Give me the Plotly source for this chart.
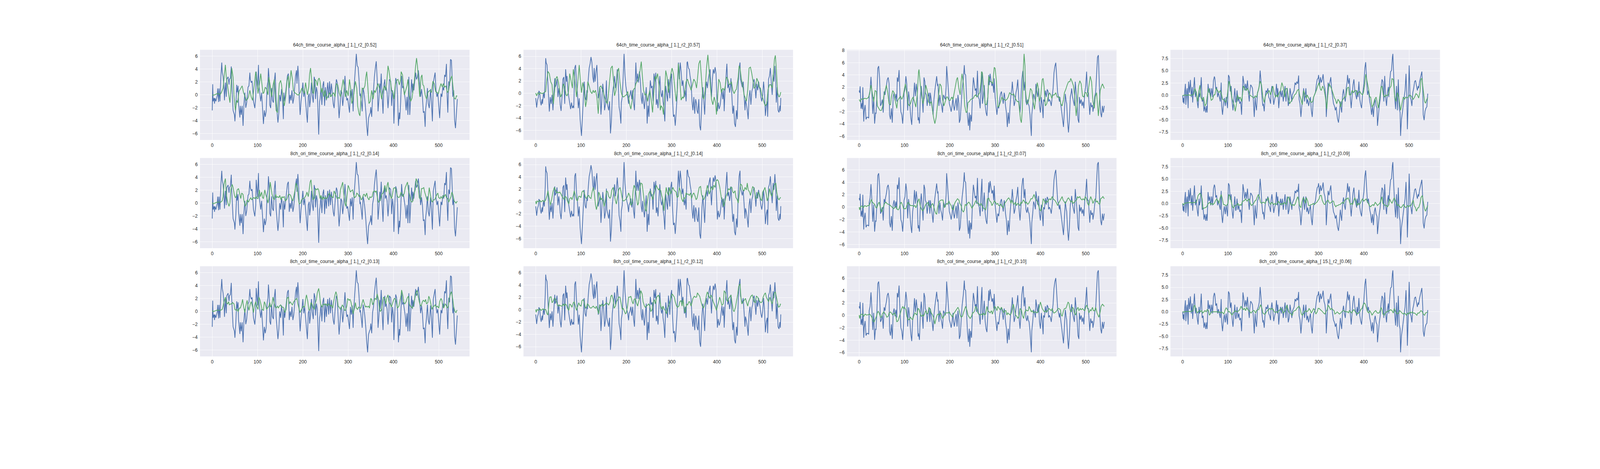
import plotly.graph_objects as go

# values: (sample index, value)
# measured time course, one per column (same in all three rows)
true_c1 = [(0,-2.4),(1,1.65),(2,-1.0),(4,-0.5),(5,-1.35),(6,-0.5),(8,-1.0),(11,-0.1),(12,1.0),(14,-1.1),(15,1.0),(17,-1.0),(19,2.8),(21,5.0),(22,3.6),(24,2.8),(26,1.0),(27,-0.85),(29,1.9),(31,-0.3),(32,2.4),(35,2.8),(37,1.6),(38,2.4),(40,2.6),(42,4.4),(43,1.9),(46,-2.4),(49,-3.1),(50,-4.1),(52,-1.9),(54,1.55),(55,0.4),(57,1.4),(58,-1.35),(61,-3.5),(62,-1.7),(64,-3.1),(66,-1.7),(68,-4.8),(70,-1.35),(72,0.35),(74,-2.0),(76,-1.2),(78,0.35),(79,1.2),(81,1.4),(83,3.45),(84,2.4),(86,1.9),(88,2.15),(90,-0.3),(91,-1.0),(94,-2.05),(96,-0.3),(97,3.6),(100,0.9),(102,4.65),(103,1.55),(105,0.2),(107,-1.0),(109,0.35),(111,-2.4),(113,-4.5),(115,-2.4),(117,-3.4),(119,-2.55),(121,1.2),(123,2.1),(124,4.15),(126,2.1),(127,-1.55),(129,-2.05),(131,1.05),(133,-0.85),(135,-1.2),(137,2.1),(139,3.45),(141,-0.85),(143,-2.75),(145,-4.3),(147,-2.75),(149,0.0),(151,-1.0),(153,0.9),(155,-0.3),(157,-3.75),(158,0.35),(160,-1.0),(162,0.35),(165,2.4),(166,2.95),(168,3.3),(170,-1.35),(172,0.0),(174,-0.85),(176,0.7),(178,-1.35),(180,-0.5),(182,1.4),(184,2.95),(186,3.8),(187,1.75),(189,4.5),(191,2.25),(192,-0.3),(194,-3.1),(196,-1.0),(198,0.2),(200,1.9),(202,-0.3),(204,0.7),(206,-1.0),(208,-2.75),(210,-4.3),(212,-0.3),(214,0.2),(215,-1.9),(217,-0.65),(219,1.9),(221,-0.15),(223,-1.2),(225,2.8),(227,2.1),(228,-0.65),(230,1.2),(232,0.35),(235,-6.15),(237,-1.0),(238,-0.65),(240,1.05),(242,-1.55),(244,1.4),(246,2.1),(248,-1.7),(250,1.2),(252,-0.85),(253,0.35),(255,1.9),(257,-0.5),(259,2.1),(261,-0.3),(263,1.75),(265,0.35),(267,-1.35),(269,-2.05),(271,0.2),(272,1.05),(274,2.4),(276,1.9),(278,-1.0),(280,-3.6),(282,-1.7),(284,0.7),(286,0.35),(288,-1.7),(290,-0.3),(292,1.75),(293,2.95),(295,0.35),(297,-0.85),(299,-0.5),(301,-1.7),(303,-2.75),(305,0.7),(307,-0.5),(309,0.9),(311,-2.55),(312,0.0),(314,2.4),(316,4.15),(318,6.35),(320,4.5),(322,4.3),(324,2.4),(326,-0.15),(327,0.2),(330,-1.7),(331,-2.55),(333,1.05),(335,0.35),(337,-0.85),(339,-2.55),(341,-4.8),(343,-6.35),(345,-3.6),(347,-3.1),(349,-2.75),(350,-1.9),(352,-3.4),(354,-0.15),(356,0.7),(358,2.8),(360,4.15),(362,5.2),(364,2.6),(366,-2.55),(368,-0.65),(370,1.75),(371,0.35),(373,3.3),(375,-0.15),(377,-2.9),(379,1.55),(381,2.4),(382,0.7),(384,1.2),(386,0.35),(388,-2.05),(390,0.0),(391,2.4),(394,2.1),(396,-1.7),(398,0.7),(400,-0.65),(401,-4.45),(403,-0.15),(405,2.6),(407,2.1),(409,0.0),(411,-4.8),(413,-2.75),(414,-3.75),(416,-1.0),(418,2.95),(420,1.05),(422,1.4),(424,0.35),(426,-0.65),(428,-2.4),(430,-0.3),(432,-3.1),(434,2.8),(436,-3.1),(438,0.0),(440,2.4),(442,0.35),(443,1.75),(445,0.7),(447,2.1),(449,3.45),(451,2.4),(453,2.8),(455,3.8),(457,2.4),(458,1.55),(460,-0.3),(462,0.9),(464,-0.3),(466,-2.75),(468,-2.55),(470,-4.95),(471,-2.4),(473,-1.0),(475,1.05),(477,-1.35),(479,-2.05),(481,0.0),(482,0.9),(484,-1.2),(486,-4.1),(488,1.9),(490,2.8),(492,3.45),(494,0.7),(496,-0.3),(498,0.35),(500,-1.7),(502,-3.6),(504,-1.0),(505,0.2),(507,-0.3),(509,1.2),(511,0.7),(513,3.1),(515,2.8),(517,4.8),(518,0.7),(520,-2.75),(522,2.1),(524,1.4),(526,5.5),(528,5.35),(530,1.9),(531,-0.3),(533,0.7),(535,-3.95),(537,-5.15),(539,-2.75),(541,-0.65)]

true_c2 = [(0,-0.77),(2,-2.3),(4,-1.1),(6,-0.6),(7,0.4),(9,0.1),(10,-1.1),(12,-1.95),(14,-0.95),(15,-1.7),(17,0.1),(19,-0.8),(21,2.45),(22,5.7),(23,5.0),(25,4.6),(27,1.4),(29,-2.0),(30,-2.95),(32,-0.6),(34,-1.7),(36,-0.25),(38,-2.75),(40,-0.05),(42,2.45),(43,1.0),(45,1.4),(47,2.3),(49,-0.6),(51,0.85),(53,-0.6),(54,-1.85),(56,-2.85),(58,-0.6),(60,2.3),(62,2.65),(64,-1.7),(66,3.9),(68,1.9),(69,2.8),(71,0.5),(73,-0.6),(75,-1.5),(77,-2.55),(79,-1.5),(81,-2.4),(83,-2.0),(84,-2.4),(86,4.1),(88,4.6),(90,1.55),(92,0.1),(94,-2.4),(96,-0.8),(98,-4.2),(100,-6.35),(101,-6.9),(103,-4.0),(105,-1.3),(107,1.9),(109,-0.6),(111,-1.1),(113,0.5),(114,0.1),(116,2.3),(118,4.1),(120,4.8),(122,5.9),(124,5.0),(126,2.65),(128,1.75),(129,4.1),(131,1.9),(133,3.55),(135,4.6),(137,1.0),(138,-0.8),(140,0.1),(142,0.85),(144,-3.45),(146,-0.6),(148,1.55),(150,0.1),(152,-2.75),(154,-1.7),(156,2.1),(157,-1.3),(159,-2.0),(161,-2.75),(163,-1.3),(165,-6.5),(167,-4.55),(169,-0.6),(171,0.85),(172,1.2),(174,2.8),(176,0.85),(178,1.9),(180,3.9),(182,1.9),(184,-2.2),(186,-3.1),(188,-4.9),(189,-1.5),(191,-0.6),(193,2.65),(195,6.4),(197,3.0),(199,1.2),(201,0.1),(203,-0.6),(205,-1.7),(206,-0.6),(208,-0.25),(210,0.5),(212,-0.95),(214,0.5),(216,-1.5),(218,-2.75),(219,-0.25),(221,5.0),(223,1.75),(225,3.2),(227,1.75),(229,3.55),(231,2.1),(233,-0.8),(235,-1.7),(236,0.1),(238,-1.3),(240,-2.55),(242,-0.6),(244,1.0),(246,-4.9),(248,-2.0),(250,-3.8),(251,-0.6),(253,2.1),(255,0.85),(257,1.2),(259,-1.3),(261,3.2),(263,1.9),(265,3.35),(266,-1.85),(268,-0.95),(270,-2.4),(272,0.5),(274,2.8),(276,0.1),(278,-0.6),(280,0.5),(281,-1.3),(283,-2.4),(285,-4.55),(287,1.2),(289,-0.25),(291,-1.3),(293,2.3),(295,0.5),(296,-0.8),(298,2.3),(300,3.2),(302,-0.95),(304,-3.8),(306,-3.45),(308,-5.25),(310,-3.1),(312,-0.6),(313,1.9),(315,5.0),(317,2.3),(319,5.0),(321,3.55),(323,1.2),(325,2.1),(326,1.2),(328,-0.6),(330,0.5),(332,-1.3),(334,5.0),(335,5.15),(337,4.1),(339,3.9),(341,2.65),(343,1.75),(345,-1.3),(347,-2.75),(349,-0.6),(351,-3.3),(353,-0.95),(355,-1.7),(356,-2.75),(358,-3.3),(360,-0.95),(362,-5.25),(364,-6.0),(366,-3.1),(367,-0.95),(369,1.0),(371,-1.5),(373,-3.45),(375,0.5),(377,1.9),(379,0.85),(381,2.3),(383,3.2),(385,3.9),(386,1.9),(388,-0.6),(390,2.3),(392,3.9),(394,3.2),(396,4.25),(398,3.2),(400,-0.8),(401,-2.9),(403,-1.5),(405,-2.55),(407,-2.0),(409,-0.8),(411,0.65),(413,-0.95),(415,0.5),(416,-2.9),(418,0.5),(420,2.65),(422,4.8),(424,0.85),(426,1.55),(428,0.1),(430,1.2),(431,2.45),(433,-0.8),(435,-3.3),(437,-2.0),(439,-4.9),(441,-5.45),(443,-2.75),(445,-4.2),(447,1.4),(449,4.1),(451,5.0),(452,2.3),(454,1.55),(456,1.0),(458,1.9),(460,-0.6),(462,-2.75),(463,-1.1),(465,-1.7),(467,-2.75),(469,-4.2),(471,-0.6),(473,0.5),(475,-1.85),(477,0.3),(479,0.85),(480,1.75),(482,2.3),(484,1.2),(486,-0.8),(488,1.55),(490,0.5),(492,1.9),(494,0.85),(495,0.65),(497,-0.6),(499,-1.3),(501,-0.25),(503,1.9),(505,0.1),(507,-3.65),(509,-2.0),(511,-1.3),(512,-3.8),(514,2.3),(516,2.8),(518,4.1),(520,1.75),(522,-0.25),(524,3.0),(526,1.9),(528,4.45),(530,1.9),(531,-1.5),(533,1.0),(535,-2.75),(537,-3.1),(539,-2.0),(540,-2.9),(541,-0.75)]

true_c3 = [(0,1.45),(1,1.1),(2,2.15),(3,0.2),(4,-1.5),(6,-0.6),(7,-1.6),(8,2.0),(10,-3.6),(11,-2.0),(13,-0.9),(15,-3.25),(17,-2.9),(19,-2.9),(21,-3.05),(22,0.75),(24,1.45),(26,3.7),(28,1.1),(30,-2.35),(32,0.4),(34,-3.95),(36,-2.15),(37,-2.35),(39,0.4),(41,5.1),(43,5.45),(45,3.45),(47,-1.05),(49,-0.7),(51,0.0),(53,-2.15),(55,1.3),(57,0.75),(58,1.45),(60,2.2),(62,3.25),(64,3.6),(66,2.55),(67,-2.5),(69,-3.25),(71,-1.45),(73,-3.8),(75,0.4),(77,1.1),(79,-0.15),(81,0.9),(83,-0.35),(84,3.6),(86,2.9),(88,4.8),(90,0.75),(92,-2.0),(94,-2.5),(96,-3.95),(98,-1.45),(99,1.1),(101,1.65),(103,3.8),(105,2.55),(107,-1.8),(109,1.3),(111,0.0),(113,-2.15),(114,-3.05),(116,-4.15),(118,-0.7),(120,0.4),(122,2.75),(124,0.55),(126,2.55),(128,1.1),(130,-3.4),(131,-2.9),(133,-3.95),(135,0.4),(137,2.2),(139,0.2),(141,-2.15),(143,3.6),(145,2.9),(146,1.1),(148,0.75),(150,-1.05),(152,0.4),(154,1.1),(156,-1.05),(157,1.1),(159,0.0),(161,-1.05),(163,-2.5),(165,0.0),(167,1.45),(169,2.75),(171,3.8),(173,2.2),(174,2.55),(176,-1.05),(178,0.75),(180,-0.5),(182,-1.05),(184,-2.15),(186,0.75),(188,0.4),(190,0.0),(192,2.2),(193,5.45),(195,3.45),(197,1.1),(199,-0.7),(201,-1.25),(203,-2.0),(205,-1.05),(207,0.4),(208,-0.9),(210,-1.8),(212,-0.7),(214,0.2),(216,-1.8),(218,0.75),(220,-0.7),(221,-3.8),(223,-3.25),(225,-0.7),(227,1.45),(230,3.45),(232,5.6),(233,4.2),(235,4.0),(237,0.4),(239,-2.7),(241,-4.3),(243,-2.15),(244,-5.05),(246,-2.5),(248,-3.6),(250,0.75),(252,3.6),(254,2.35),(256,1.45),(258,1.8),(259,0.55),(261,4.7),(263,0.4),(265,0.0),(267,-1.45),(269,2.2),(271,4.55),(272,-0.7),(274,0.4),(276,2.35),(278,-0.9),(280,-2.15),(282,-2.7),(284,0.4),(286,4.0),(287,2.35),(289,4.2),(291,3.1),(293,2.2),(295,2.75),(297,1.1),(298,3.45),(300,0.4),(302,-1.05),(304,-2.5),(306,-1.05),(308,-1.45),(310,0.0),(312,0.9),(314,1.3),(316,0.4),(318,-0.7),(320,1.1),(321,0.75),(323,-1.05),(325,-2.15),(327,-4.5),(329,-2.15),(331,-3.95),(333,-1.05),(335,0.75),(337,1.8),(338,2.9),(340,0.9),(342,-1.05),(344,-0.35),(346,1.1),(348,1.8),(350,3.25),(352,0.4),(353,-0.35),(355,-2.15),(357,0.0),(359,3.25),(361,4.55),(362,4.7),(364,1.45),(366,2.9),(368,-0.35),(370,-0.9),(372,0.0),(373,-0.7),(375,-1.05),(377,-2.5),(380,-5.95),(381,-2.5),(383,-1.05),(385,0.9),(387,0.4),(389,-0.35),(390,2.55),(392,1.45),(394,0.4),(396,1.8),(398,-1.05),(400,-2.15),(402,0.4),(404,-0.9),(406,-3.05),(407,0.0),(409,-0.35),(411,1.45),(413,0.4),(415,1.65),(417,1.3),(418,-0.35),(420,0.0),(422,-0.35),(424,-1.05),(426,0.4),(428,1.8),(430,4.35),(432,5.45),(434,6.0),(436,3.25),(438,1.1),(440,0.4),(442,-0.35),(443,0.4),(445,-0.7),(447,-2.0),(449,-3.25),(451,-4.5),(453,-1.8),(455,0.9),(457,-0.35),(458,-0.7),(460,-3.6),(462,-5.4),(464,-3.25),(466,0.4),(468,1.1),(469,1.8),(471,0.4),(473,-0.35),(475,-1.05),(477,2.9),(479,1.1),(481,-0.7),(483,-3.25),(485,-3.8),(486,0.4),(488,-0.7),(490,0.0),(492,-1.05),(494,-0.35),(496,-1.45),(498,1.1),(500,2.2),(502,4.55),(504,1.1),(506,1.1),(507,-0.35),(509,-2.5),(511,-0.5),(513,-1.25),(515,-0.9),(516,-2.0),(518,-1.05),(520,0.55),(522,1.1),(524,4.0),(526,6.9),(528,7.25),(529,5.1),(531,0.4),(533,-2.15),(535,-2.9),(537,-1.05),(539,-2.15),(541,-1.05)]

true_c4 = [(0,0.0),(1,-1.45),(2,-0.55),(3,-1.7),(4,0.1),(6,2.35),(7,-1.9),(9,1.0),(10,1.45),(12,-2.6),(13,2.8),(15,0.55),(17,3.15),(19,-0.35),(21,1.7),(22,-1.45),(24,1.25),(26,3.7),(28,-0.35),(30,0.8),(32,-1.25),(34,-2.6),(36,1.0),(37,-0.35),(39,0.55),(41,3.7),(43,-1.25),(45,-0.8),(47,-3.25),(49,-2.15),(51,-3.5),(53,-2.15),(54,-3.5),(56,2.35),(58,0.55),(60,1.45),(62,-0.35),(64,1.45),(66,-0.35),(68,3.05),(70,3.85),(71,3.5),(73,1.25),(75,1.7),(77,-0.35),(79,0.55),(81,-0.35),(83,-1.25),(85,2.6),(86,-2.15),(88,-3.95),(90,-1.7),(92,-0.55),(94,-2.15),(96,-0.35),(98,-2.15),(99,-2.6),(101,4.15),(103,3.7),(105,0.8),(107,1.9),(109,-1.25),(111,-3.05),(113,-0.8),(115,1.45),(117,-1.45),(118,-1.25),(120,1.0),(122,-1.25),(124,-0.35),(126,-1.7),(128,-1.25),(130,-3.95),(132,1.0),(133,3.95),(135,2.6),(137,1.0),(139,2.35),(141,1.0),(143,3.05),(145,0.55),(147,-1.25),(148,0.55),(150,2.15),(152,1.9),(154,1.45),(156,-1.0),(158,-4.4),(160,-0.35),(161,-1.7),(163,-3.05),(165,0.55),(167,1.0),(169,1.9),(171,5.05),(173,2.8),(175,-0.35),(177,-2.15),(178,-1.7),(180,-3.25),(182,-0.35),(184,1.0),(186,0.55),(188,1.45),(190,-0.35),(192,-0.8),(194,-1.7),(195,0.55),(197,1.9),(199,0.1),(201,-1.9),(203,-0.8),(205,-0.1),(207,2.35),(209,-0.35),(210,1.45),(212,-2.6),(214,-0.35),(216,1.0),(218,-0.35),(220,1.0),(222,-1.25),(224,0.55),(226,1.9),(228,-1.25),(229,0.1),(231,1.45),(233,-2.15),(235,-1.25),(237,1.45),(239,0.1),(241,-1.25),(242,0.1),(244,0.55),(246,1.0),(248,2.6),(250,2.15),(252,2.8),(254,2.35),(256,4.05),(257,-0.8),(259,-1.7),(261,-4.4),(263,-2.15),(265,-0.35),(267,1.45),(269,-1.25),(271,0.55),(272,1.45),(274,-1.7),(276,-0.8),(278,-2.15),(280,-1.25),(282,-0.35),(284,-3.05),(286,-4.4),(288,-1.25),(289,-0.35),(291,0.1),(293,0.55),(295,2.15),(297,3.25),(299,3.5),(300,4.15),(302,1.9),(304,3.7),(306,2.6),(308,3.25),(310,4.3),(312,2.15),(314,1.45),(316,-0.35),(317,-4.4),(319,-0.35),(321,2.6),(323,1.7),(325,2.8),(327,3.7),(329,1.0),(331,-0.35),(333,-1.7),(335,-2.15),(337,-3.05),(339,-2.35),(340,-3.5),(342,-4.85),(344,-5.55),(346,-3.5),(348,-1.25),(349,-2.15),(351,-3.5),(353,0.1),(355,1.25),(357,-0.35),(359,-1.25),(361,1.45),(363,2.8),(364,4.15),(366,2.35),(368,3.5),(370,-0.35),(372,-2.6),(374,0.1),(376,2.15),(378,3.25),(380,1.0),(382,0.1),(384,-0.8),(385,1.0),(387,-0.35),(389,2.8),(391,-0.8),(393,-1.9),(395,-2.6),(397,0.1),(398,1.0),(400,2.35),(402,5.5),(404,6.75),(406,3.25),(408,0.1),(410,1.0),(412,-0.8),(413,-1.25),(415,-2.15),(417,-3.95),(419,-2.15),(421,-4.4),(423,-1.7),(425,-0.8),(427,-2.15),(429,-2.6),(430,-6.2),(432,-3.95),(434,-2.15),(436,-0.8),(438,1.7),(440,3.25),(442,2.8),(444,-1.25),(446,3.95),(448,-0.35),(450,-2.15),(452,0.55),(454,1.7),(455,-0.35),(457,2.8),(459,4.85),(461,5.05),(463,7.8),(464,8.45),(466,3.7),(468,-0.35),(470,-2.8),(472,1.9),(474,-3.05),(476,3.25),(478,-2.6),(480,-3.5),(481,-8.25),(483,-4.85),(485,-3.5),(487,-1.7),(489,-0.35),(491,1.0),(493,4.4),(495,-0.8),(496,-6.9),(498,-1.25),(500,6.1),(502,-0.35),(504,-0.8),(506,-2.15),(508,0.55),(510,1.45),(512,2.8),(514,3.05),(516,2.15),(518,1.0),(520,1.9),(521,1.45),(523,2.8),(524,3.25),(526,4.15),(528,4.85),(530,1.0),(531,-3.95),(533,-5.05),(535,-3.25),(537,-2.6),(539,-2.35),(541,0.35)]

# predicted time courses, row 1 (64ch)
pred_64ch_c1 = [(0,0.0),(2,-0.05),(5,0.0),(8,0.1),(11,0.2),(14,0.2),(17,0.0),(20,0.35),(24,1.05),(27,3.3),(29,4.65),(31,2.75),(33,1.75),(36,0.35),(39,-1.2),(41,0.7),(43,4.15),(46,2.75),(48,-0.15),(51,-2.4),(54,-0.85),(56,-1.2),(59,0.55),(62,0.9),(66,1.4),(69,0.35),(73,-0.35),(75,-0.85),(78,-0.65),(80,-0.3),(83,0.7),(86,-0.3),(89,-0.85),(92,1.05),(96,3.6),(99,1.75),(101,0.2),(105,2.1),(107,3.3),(109,2.1),(112,0.2),(114,0.35),(117,1.2),(120,0.9),(123,0.0),(125,2.75),(128,1.4),(131,-0.3),(134,1.4),(137,2.4),(139,-0.3),(141,-2.4),(144,-2.75),(146,-0.65),(148,1.75),(151,2.25),(153,1.55),(156,-0.65),(159,-1.7),(162,-0.3),(165,2.1),(168,2.95),(170,1.05),(174,3.8),(177,2.4),(179,0.7),(182,0.35),(185,0.2),(188,0.0),(191,0.0),(194,0.35),(198,1.05),(200,0.7),(203,0.2),(206,1.9),(208,1.05),(210,0.0),(213,1.2),(215,3.3),(217,4.15),(219,2.75),(222,0.35),(224,0.2),(227,2.4),(230,2.1),(232,1.4),(234,2.4),(236,2.6),(238,2.1),(241,0.35),(243,1.05),(246,-0.3),(249,0.7),(252,-0.65),(255,-0.3),(259,0.35),(262,-0.3),(264,0.0),(268,0.35),(271,-0.3),(274,1.75),(277,1.55),(280,0.35),(283,-0.3),(286,1.05),(289,2.4),(292,1.05),(294,-0.3),(297,0.7),(300,-0.15),(303,2.4),(306,0.7),(308,-1.35),(311,-0.65),(314,1.05),(316,2.1),(319,1.05),(321,-1.7),(324,-2.9),(326,-3.25),(328,-1.0),(331,1.05),(334,0.9),(337,1.4),(339,2.75),(341,3.6),(343,1.75),(346,-1.35),(349,-1.0),(352,0.7),(355,-0.65),(358,0.7),(360,0.35),(363,1.05),(366,1.75),(369,1.05),(371,0.7),(374,-0.65),(377,0.7),(380,1.4),(383,0.7),(385,1.75),(388,4.5),(390,3.8),(393,2.1),(396,0.7),(399,0.35),(401,-0.65),(404,1.55),(407,2.25),(410,2.4),(413,1.55),(416,2.4),(417,3.6),(420,3.1),(422,1.4),(424,0.0),(427,0.7),(430,1.4),(432,2.4),(435,0.0),(438,-1.0),(441,-0.5),(444,1.05),(446,2.1),(449,4.5),(451,5.7),(453,4.5),(456,1.75),(458,-0.3),(461,2.75),(463,3.1),(465,1.55),(467,1.4),(470,0.0),(473,-0.65),(476,0.35),(478,0.55),(481,0.7),(484,0.35),(487,2.1),(490,1.75),(493,0.55),(496,0.35),(499,0.2),(502,1.05),(505,1.75),(508,1.2),(510,1.75),(513,1.2),(516,1.4),(519,0.35),(522,0.7),(524,1.75),(527,2.6),(529,2.95),(532,0.9),(534,-0.5),(537,-0.65),(539,-0.15),(541,-0.2)]

pred_64ch_c2 = [(0,0.05),(2,-0.4),(5,0.1),(8,-0.15),(10,0.1),(14,-0.05),(18,0.1),(22,0.3),(24,1.9),(27,3.55),(30,3.2),(33,1.9),(36,1.4),(38,-0.6),(39,-1.7),(41,-0.05),(44,2.3),(47,2.75),(50,1.9),(53,0.3),(55,-0.6),(58,-0.05),(61,1.55),(64,1.0),(67,-0.25),(69,-0.4),(72,0.1),(75,3.2),(78,2.1),(81,0.85),(83,3.9),(86,2.3),(90,-0.6),(93,1.9),(96,4.6),(98,2.65),(101,0.1),(104,1.75),(107,0.5),(110,-2.2),(113,-0.95),(115,1.9),(118,1.2),(121,0.3),(124,-0.05),(127,0.5),(129,0.1),(132,0.5),(135,-0.6),(138,-3.3),(141,1.0),(144,1.2),(146,0.85),(149,0.3),(152,-0.6),(155,-1.3),(158,-1.7),(160,-0.6),(163,1.9),(166,4.1),(169,4.45),(172,1.9),(174,-0.4),(177,0.5),(180,3.35),(183,4.1),(186,1.75),(189,0.1),(191,-0.4),(194,-0.6),(197,-0.4),(200,-0.25),(203,0.3),(205,-0.6),(208,-2.0),(210,-2.55),(213,-1.1),(216,0.65),(219,0.85),(221,1.55),(224,1.9),(227,2.3),(230,3.55),(233,5.15),(235,3.2),(238,0.5),(241,-0.25),(244,-0.05),(247,-1.3),(249,-0.4),(252,0.5),(255,-1.1),(258,-3.1),(261,0.5),(264,2.8),(266,2.3),(269,3.2),(272,1.4),(275,-2.75),(277,-2.0),(280,-2.4),(282,-3.45),(285,0.5),(287,3.7),(290,2.65),(293,0.1),(295,1.4),(298,3.0),(301,4.1),(304,3.2),(307,0.85),(310,-1.3),(313,0.85),(315,4.8),(318,2.3),(321,-1.1),(324,-0.6),(326,-0.8),(329,0.3),(332,1.9),(335,2.3),(338,1.55),(341,1.0),(343,0.5),(346,1.4),(349,2.3),(352,1.9),(355,0.85),(357,2.3),(360,4.8),(363,5.35),(366,2.3),(369,-0.6),(371,-0.95),(374,0.5),(377,4.1),(380,6.25),(383,3.55),(386,0.85),(388,-0.95),(391,-1.85),(394,-0.6),(397,-1.5),(399,-3.45),(401,-1.3),(404,2.3),(407,1.75),(410,0.1),(413,0.85),(416,0.5),(418,1.0),(421,2.65),(424,2.3),(427,1.4),(430,1.55),(432,1.9),(435,0.5),(438,-0.05),(441,0.5),(443,0.65),(447,2.65),(449,4.45),(451,4.1),(454,2.3),(457,1.2),(460,-0.25),(462,-0.6),(465,-1.3),(468,0.5),(471,4.1),(474,4.25),(477,3.2),(479,2.3),(482,0.85),(485,1.0),(488,2.45),(491,1.9),(493,1.0),(496,0.85),(499,-0.25),(502,-0.95),(505,-1.7),(507,-2.0),(510,-1.7),(513,0.65),(516,1.4),(519,1.4),(522,0.85),(524,2.65),(527,5.5),(529,6.15),(531,4.1),(534,0.1),(537,-0.6),(539,-0.4),(541,0.2)]

pred_64ch_c3 = [(0,0.0),(2,-0.35),(5,0.1),(8,0.0),(12,0.2),(16,0.1),(20,0.3),(23,0.9),(26,2.35),(29,1.1),(32,-0.35),(35,1.45),(38,1.3),(40,-1.05),(43,-1.45),(46,-1.8),(49,-1.8),(52,-1.05),(54,0.4),(57,1.45),(60,2.35),(63,1.1),(66,-0.7),(69,-0.9),(71,0.4),(74,1.45),(77,1.1),(80,-0.35),(83,-1.45),(85,-0.15),(88,0.2),(91,0.55),(94,0.0),(97,0.55),(100,1.8),(102,2.55),(105,1.1),(108,-0.7),(111,-1.05),(114,-0.5),(116,0.0),(119,0.4),(122,-0.35),(125,-1.25),(128,0.75),(131,4.55),(132,4.9),(135,2.35),(138,0.4),(141,-0.7),(144,0.4),(147,2.35),(150,1.45),(153,-0.35),(156,-0.7),(159,-0.35),(162,-1.8),(164,-2.9),(167,-3.95),(170,-2.9),(173,-0.7),(176,1.45),(178,2.55),(181,2.2),(184,0.0),(187,-1.05),(190,-0.35),(193,0.4),(195,0.4),(198,-0.15),(201,-0.15),(204,0.4),(207,0.0),(209,0.75),(212,2.0),(215,3.25),(217,3.6),(220,1.8),(223,0.75),(225,2.9),(227,4.2),(230,2.55),(233,-1.05),(236,-2.15),(238,-2.0),(240,-0.5),(243,-0.35),(246,0.0),(249,0.1),(252,0.2),(254,0.55),(257,0.75),(260,0.4),(263,0.75),(266,1.1),(269,2.9),(270,4.55),(272,4.35),(275,1.8),(278,-0.7),(281,-0.9),(284,0.4),(286,3.8),(289,2.9),(292,2.9),(295,2.55),(298,5.25),(300,5.1),(303,2.9),(306,-1.25),(309,-1.05),(312,-0.35),(315,0.4),(318,0.0),(320,0.0),(323,-0.15),(326,0.0),(329,0.4),(332,1.1),(335,0.9),(338,0.75),(341,0.9),(344,0.4),(346,0.0),(349,-0.35),(352,-0.35),(354,-1.8),(356,-3.25),(358,-3.8),(360,-1.8),(362,4.55),(364,7.45),(366,5.45),(367,1.45),(370,-0.7),(373,-0.5),(376,0.75),(378,1.8),(381,1.45),(384,-0.35),(387,-1.6),(390,0.4),(393,2.75),(395,2.0),(398,-0.35),(401,0.75),(404,3.25),(406,3.45),(408,2.2),(411,-1.05),(414,-0.7),(417,0.4),(420,1.1),(423,0.75),(425,0.2),(428,0.75),(431,0.75),(434,1.1),(437,0.4),(439,0.4),(442,0.4),(445,-0.7),(448,-1.05),(451,0.0),(453,1.1),(456,1.65),(459,2.35),(462,2.9),(465,2.9),(467,3.45),(470,2.9),(473,2.2),(476,0.4),(479,-2.7),(481,-1.05),(484,2.2),(487,3.05),(490,2.55),(493,0.55),(496,0.4),(498,1.1),(501,1.1),(504,0.4),(507,2.2),(510,3.8),(513,2.9),(516,-0.35),(519,-1.45),(521,0.4),(524,1.1),(526,-0.7),(528,-2.7),(530,-0.7),(532,1.45),(535,2.2),(537,2.55),(539,2.2),(541,1.8)]

pred_64ch_c4 = [(0,0.0),(3,0.0),(6,0.1),(9,0.0),(13,0.1),(17,0.0),(21,0.1),(24,0.2),(27,1.45),(30,0.55),(33,-1.25),(36,1.0),(38,2.05),(40,-0.35),(43,-1.0),(46,-0.35),(49,-2.15),(52,-1.7),(54,-0.35),(57,1.45),(60,0.35),(63,-1.0),(66,-0.8),(69,0.1),(71,0.1),(74,1.45),(77,1.0),(80,0.55),(83,1.0),(86,0.1),(88,-0.8),(92,-1.0),(95,-1.45),(98,-0.35),(101,1.9),(102,2.9),(105,1.9),(108,-0.35),(111,-1.25),(114,-2.15),(116,-3.25),(118,-2.15),(121,0.1),(124,-0.8),(127,-0.35),(130,-1.25),(133,1.0),(134,1.9),(137,1.45),(140,1.0),(143,1.45),(146,0.8),(148,0.1),(151,-0.1),(154,-0.35),(157,-0.55),(160,-0.1),(163,-0.35),(165,0.35),(168,1.45),(171,2.9),(174,2.15),(177,-0.35),(180,-1.45),(182,-0.35),(185,0.35),(188,0.55),(191,1.0),(194,0.1),(196,0.8),(199,1.9),(202,0.55),(205,-0.35),(208,0.1),(210,-0.35),(213,0.55),(216,1.0),(219,2.6),(222,1.7),(225,-0.35),(227,1.25),(230,1.45),(233,-0.35),(236,-1.7),(239,-1.25),(242,-0.8),(244,-0.55),(247,0.1),(250,0.35),(253,1.0),(256,1.25),(258,0.1),(261,-0.8),(264,-1.9),(267,1.0),(270,0.1),(273,-0.55),(275,0.1),(278,-0.55),(281,-1.0),(284,-1.45),(287,-1.25),(289,-0.35),(292,0.35),(295,1.0),(298,1.9),(301,2.6),(304,1.25),(306,1.0),(309,1.9),(312,1.25),(315,-0.35),(318,-2.8),(320,-0.35),(323,2.35),(326,1.9),(329,1.25),(332,0.35),(335,-0.55),(337,-0.8),(340,-1.7),(343,-0.8),(346,-1.25),(349,-2.35),(351,-1.25),(354,-0.8),(357,-0.35),(360,-0.35),(363,1.45),(366,1.7),(368,0.1),(371,0.1),(374,1.0),(377,0.55),(380,1.0),(383,1.0),(385,0.1),(388,0.55),(391,0.8),(394,0.35),(397,0.1),(399,0.55),(402,2.35),(404,4.3),(407,2.8),(410,1.45),(413,-0.35),(415,-0.35),(418,-2.35),(421,-1.9),(424,-0.8),(427,-0.35),(430,-1.7),(432,-2.6),(435,-0.35),(438,1.7),(440,1.9),(443,0.1),(446,-0.35),(448,0.1),(451,-0.1),(454,0.1),(457,1.45),(460,1.9),(462,3.4),(465,3.25),(468,-0.35),(471,-1.25),(474,0.55),(477,-0.35),(479,-1.7),(481,-3.05),(484,-1.7),(487,-0.35),(490,-0.8),(492,-0.35),(495,-0.55),(498,-0.35),(501,0.1),(504,-0.1),(507,-0.55),(509,-0.8),(512,-0.35),(515,0.35),(518,0.1),(521,-0.55),(524,0.8),(526,3.25),(528,3.5),(531,1.0),(534,-1.25),(536,-1.6),(539,-0.8),(541,-0.45)]

# row 2 (8ch_ori)
pred_ori_c1 = [(0,0.1),(2,-0.1),(6,0.0),(9,0.1),(12,0.15),(15,0.15),(18,0.1),(22,0.35),(24,1.0),(26,2.9),(29,3.8),(31,1.35),(34,0.15),(37,-0.5),(39,0.0),(41,2.05),(44,2.9),(46,2.4),(49,1.2),(51,0.85),(53,1.0),(55,2.05),(58,2.25),(61,1.35),(63,0.7),(65,1.55),(68,1.35),(70,0.35),(73,-0.5),(75,-0.15),(77,0.5),(80,0.15),(82,0.5),(85,0.85),(87,0.5),(89,0.7),(92,0.85),(94,0.7),(97,1.0),(99,0.7),(101,0.7),(104,2.05),(106,1.0),(109,1.7),(111,0.85),(113,0.7),(116,2.05),(118,1.35),(121,0.7),(123,0.0),(125,0.7),(128,3.25),(130,2.4),(132,1.35),(135,0.7),(137,0.5),(140,1.35),(142,0.85),(144,1.0),(147,0.85),(149,1.2),(152,0.5),(154,1.0),(156,0.85),(159,1.0),(161,0.35),(164,0.5),(166,0.85),(168,1.35),(171,1.35),(173,1.2),(176,0.5),(178,0.35),(180,1.0),(183,2.05),(185,3.1),(188,2.4),(190,0.85),(192,-0.15),(195,0.0),(197,0.5),(200,0.7),(202,0.7),(204,0.85),(207,1.2),(209,1.7),(212,1.0),(214,2.05),(216,3.25),(218,3.6),(221,1.35),(223,0.5),(226,0.85),(228,2.25),(231,2.05),(233,2.25),(235,2.05),(238,0.7),(240,1.2),(243,0.5),(245,1.0),(247,0.7),(250,0.85),(252,0.7),(255,1.0),(257,1.35),(259,1.55),(262,1.0),(264,1.0),(267,0.85),(269,1.9),(271,1.55),(274,1.0),(276,0.7),(279,0.85),(281,0.7),(283,2.05),(286,2.75),(288,3.25),(290,1.7),(293,0.0),(295,-0.5),(298,1.35),(300,2.75),(302,2.4),(305,1.7),(307,1.9),(310,2.05),(312,1.35),(314,0.85),(317,1.0),(319,1.55),(322,1.35),(324,1.0),(326,1.2),(329,0.5),(331,0.7),(334,1.35),(336,1.35),(338,1.0),(341,1.55),(343,0.85),(346,0.5),(348,1.0),(350,0.85),(353,1.0),(355,1.7),(358,1.9),(360,1.7),(362,1.9),(365,0.7),(367,0.15),(370,0.35),(372,0.7),(374,1.35),(377,1.55),(379,2.05),(381,2.75),(384,1.7),(386,2.75),(388,3.25),(390,2.05),(393,1.2),(395,0.7),(397,1.0),(400,2.25),(402,2.4),(405,2.25),(407,1.55),(409,1.0),(412,0.85),(414,1.0),(417,1.7),(419,1.2),(421,1.0),(424,1.55),(426,2.4),(428,2.75),(431,3.25),(433,2.05),(436,1.2),(438,0.35),(441,0.15),(443,0.35),(445,1.35),(448,2.05),(450,3.8),(452,3.45),(455,2.4),(457,0.85),(460,0.5),(462,2.25),(464,2.25),(467,2.4),(469,1.7),(472,1.0),(474,0.5),(476,0.35),(479,2.4),(481,1.55),(484,0.35),(486,0.15),(488,0.5),(491,0.5),(493,0.85),(496,1.35),(498,1.55),(500,0.85),(503,0.7),(505,1.0),(508,0.7),(510,1.2),(512,1.0),(515,1.35),(517,0.85),(520,0.7),(522,0.15),(524,0.5),(527,1.0),(529,1.7),(531,1.35),(534,0.35),(536,0.15),(538,0.0),(541,0.3)]

pred_ori_c2 = [(0,0.05),(1,-0.4),(3,0.1),(6,-0.05),(9,0.2),(12,-0.05),(16,0.2),(19,-0.05),(22,0.3),(25,1.0),(27,1.75),(30,0.3),(32,-0.6),(35,0.3),(38,1.55),(41,2.3),(43,1.9),(46,1.4),(48,1.55),(51,1.4),(53,1.55),(56,1.2),(58,0.85),(61,0.5),(63,0.3),(65,0.85),(68,0.65),(70,0.1),(73,-0.4),(75,0.5),(78,0.65),(80,0.3),(83,1.0),(85,1.75),(87,1.2),(90,0.3),(92,0.1),(95,0.85),(97,0.85),(100,0.65),(102,1.55),(105,1.75),(107,1.4),(110,0.65),(112,0.5),(114,0.85),(117,1.0),(119,0.65),(122,0.5),(124,1.4),(127,2.3),(129,1.55),(132,-0.6),(134,-1.3),(137,-0.25),(139,1.55),(141,1.2),(144,0.3),(146,0.5),(149,0.1),(151,-0.8),(154,0.3),(156,1.75),(159,1.55),(161,0.85),(164,0.5),(166,0.85),(168,1.9),(171,2.3),(173,1.2),(176,0.1),(178,-0.4),(181,0.85),(183,1.9),(186,2.3),(188,1.75),(191,0.5),(193,0.1),(195,0.1),(198,0.3),(200,0.5),(203,0.85),(205,1.4),(208,0.85),(210,-0.6),(213,-0.25),(215,1.75),(217,2.65),(220,2.1),(222,0.85),(225,-0.6),(227,-0.25),(230,2.1),(232,3.0),(235,2.85),(237,1.55),(240,-0.25),(242,-1.3),(244,-1.6),(246,-0.25),(249,1.2),(251,1.55),(253,1.75),(256,1.0),(258,0.3),(261,1.2),(263,1.75),(266,2.65),(268,2.3),(271,1.9),(273,2.1),(276,1.75),(278,1.0),(280,0.5),(283,-1.5),(285,0.3),(288,2.3),(290,1.55),(293,1.0),(295,2.3),(298,1.2),(300,1.75),(303,2.3),(305,1.9),(307,1.75),(310,1.55),(312,0.65),(315,0.85),(317,2.3),(320,1.55),(322,0.5),(325,-0.05),(327,0.65),(330,0.5),(332,1.4),(334,1.2),(337,1.2),(339,1.0),(342,1.4),(344,0.5),(347,1.2),(349,1.4),(352,0.85),(354,0.3),(356,0.5),(359,1.55),(361,2.3),(364,2.45),(366,1.2),(369,0.5),(371,0.3),(374,0.85),(376,1.55),(379,2.65),(381,1.9),(383,1.2),(386,1.9),(388,2.45),(391,1.9),(393,2.65),(396,2.3),(398,3.35),(401,3.55),(403,3.35),(406,2.45),(408,1.55),(410,0.5),(413,0.3),(415,-0.8),(418,0.1),(420,0.85),(423,1.4),(425,2.1),(428,1.9),(430,2.3),(433,2.3),(435,1.55),(437,1.4),(440,1.75),(442,0.65),(445,0.3),(447,-0.25),(450,1.55),(452,2.85),(455,2.65),(457,1.9),(460,1.75),(462,2.3),(465,1.9),(467,3.0),(469,1.9),(472,1.55),(474,1.0),(477,1.9),(479,2.45),(482,2.1),(484,1.2),(486,0.5),(489,0.65),(491,1.55),(494,1.2),(496,0.5),(499,0.1),(501,1.55),(504,1.9),(506,2.3),(509,1.2),(511,0.1),(514,0.85),(516,2.1),(519,1.2),(521,0.85),(523,1.55),(526,2.45),(528,2.85),(530,3.0),(532,1.55),(535,0.5),(537,0.3),(540,0.65),(541,0.6)]

pred_ori_c3 = [(0,0.0),(1,-0.45),(3,0.1),(6,0.2),(9,-0.1),(12,0.25),(16,0.1),(19,0.25),(22,0.25),(25,0.8),(27,1.25),(29,0.8),(32,0.6),(34,0.45),(37,-0.1),(39,-0.1),(42,0.6),(44,0.8),(47,-0.1),(49,-0.8),(51,-0.45),(54,0.25),(56,0.6),(59,0.8),(61,0.6),(64,0.45),(66,0.45),(69,0.25),(71,0.1),(74,-0.1),(76,-0.25),(78,-0.1),(81,0.1),(83,-0.25),(86,-0.45),(88,-0.25),(91,0.6),(93,0.8),(96,0.25),(98,-0.25),(100,-0.25),(103,-0.25),(105,0.25),(108,0.8),(110,0.6),(113,0.25),(115,0.25),(118,0.25),(120,0.1),(123,0.25),(125,-0.1),(127,0.25),(130,1.0),(132,1.35),(135,0.1),(137,-0.25),(140,-0.6),(142,-0.45),(145,0.1),(147,0.45),(150,0.6),(152,0.8),(154,0.25),(157,-0.1),(159,0.25),(162,0.6),(164,0.25),(167,-0.6),(169,-1.0),(171,-1.15),(173,-0.1),(176,0.8),(178,1.0),(181,1.15),(183,1.15),(185,1.15),(188,-0.1),(190,0.25),(193,0.6),(195,0.45),(198,1.0),(200,0.6),(203,0.25),(205,-0.25),(208,-0.45),(210,0.45),(212,0.8),(215,1.15),(217,1.35),(220,1.15),(222,0.6),(225,0.25),(227,-0.45),(230,-0.8),(232,-0.45),(234,0.45),(237,0.25),(239,0.6),(242,0.8),(244,0.6),(247,0.1),(249,-0.2),(252,0.25),(254,0.45),(257,1.0),(259,1.0),(261,0.6),(264,0.6),(266,0.25),(269,0.6),(271,0.25),(274,-0.1),(276,-0.25),(279,-0.45),(281,0.1),(283,1.35),(286,1.45),(288,1.0),(291,0.8),(293,0.25),(296,0.6),(298,1.0),(301,0.8),(303,0.45),(306,0.6),(308,0.25),(310,0.25),(313,0.45),(315,0.1),(318,-0.1),(320,0.45),(323,0.8),(325,1.0),(328,1.35),(330,1.5),(333,1.15),(335,0.6),(337,1.15),(340,0.6),(342,0.45),(345,0.8),(347,0.25),(350,0.6),(352,0.45),(355,0.25),(357,0.8),(359,0.6),(362,1.15),(364,1.0),(367,0.6),(369,0.8),(372,0.45),(374,0.6),(377,1.0),(379,1.35),(382,1.35),(384,1.7),(386,2.05),(389,1.35),(391,1.15),(394,0.8),(396,0.25),(399,-0.45),(401,-0.6),(404,0.1),(406,1.35),(408,1.15),(411,0.6),(413,1.0),(416,0.8),(418,1.15),(421,1.35),(423,1.15),(426,1.7),(428,1.35),(431,1.15),(433,1.0),(436,0.6),(438,0.25),(440,0.6),(443,1.0),(445,1.35),(448,1.7),(450,1.15),(453,0.8),(455,0.6),(458,1.0),(460,1.35),(462,1.5),(465,1.15),(467,0.8),(470,1.0),(472,0.6),(475,0.8),(477,1.0),(480,1.15),(482,1.7),(484,1.5),(487,1.7),(489,1.35),(492,1.15),(494,1.35),(497,1.15),(499,1.7),(502,1.35),(504,0.6),(507,0.25),(509,1.15),(511,1.7),(514,1.15),(516,0.6),(519,1.0),(521,1.35),(524,0.8),(526,1.0),(528,0.6),(531,0.45),(533,1.35),(536,1.5),(538,1.7),(541,1.35)]

pred_ori_c4 = [(0,0.05),(2,-0.3),(5,0.15),(8,0.05),(11,0.25),(14,0.15),(18,0.25),(21,0.15),(24,0.25),(28,0.15),(31,0.5),(34,1.65),(38,2.1),(40,1.85),(43,0.95),(45,-1.1),(48,-0.85),(50,-0.85),(53,-0.65),(55,-0.2),(57,0.05),(60,0.25),(62,-0.2),(65,0.05),(67,-0.2),(70,0.05),(72,0.5),(75,0.95),(77,0.7),(80,0.05),(82,0.95),(85,1.85),(87,1.2),(90,-0.2),(92,-0.2),(95,-0.4),(97,-0.4),(100,0.05),(102,1.85),(105,1.4),(107,0.5),(110,-0.65),(112,-0.85),(115,-0.4),(117,-0.4),(120,-0.2),(122,0.05),(124,-0.4),(127,-0.2),(129,-0.4),(132,0.5),(134,0.5),(137,0.7),(139,0.95),(142,0.5),(144,0.7),(147,0.95),(149,0.05),(152,-0.4),(154,-0.2),(157,0.05),(159,0.5),(162,0.7),(164,1.2),(167,1.85),(169,1.4),(172,0.25),(174,0.05),(177,0.25),(179,0.25),(182,0.05),(184,0.5),(187,0.95),(189,1.2),(191,0.25),(194,-0.2),(196,0.25),(199,0.05),(201,-0.2),(204,0.05),(206,-0.2),(209,0.05),(211,0.5),(214,0.05),(216,-0.2),(219,0.05),(221,-0.2),(224,0.25),(226,0.05),(229,-0.2),(231,0.95),(234,1.4),(236,0.5),(239,-0.2),(241,-0.4),(244,-0.2),(246,-0.4),(249,0.05),(251,0.7),(254,1.4),(256,0.7),(258,-0.4),(261,-0.85),(263,0.25),(266,1.2),(268,0.95),(271,0.05),(273,1.2),(276,0.5),(278,-0.4),(281,-0.4),(283,-0.2),(286,-0.2),(288,0.05),(291,-0.2),(293,0.05),(296,0.25),(298,0.5),(301,0.95),(303,1.65),(306,1.65),(308,0.7),(311,0.05),(313,-0.2),(316,0.05),(318,0.5),(321,0.7),(323,0.25),(325,0.05),(328,0.25),(330,0.5),(333,0.5),(335,-0.2),(338,-0.65),(340,-0.4),(343,-0.4),(345,-0.2),(348,-0.2),(350,0.05),(353,0.25),(355,0.05),(358,0.7),(360,0.95),(363,0.95),(365,1.2),(368,0.5),(370,-0.2),(373,0.05),(375,-0.2),(378,0.7),(380,1.2),(383,0.5),(385,-0.4),(388,0.05),(390,-0.2),(392,0.05),(395,0.7),(397,0.95),(400,0.5),(402,0.7),(405,0.95),(407,0.5),(410,0.05),(412,-0.4),(415,-0.65),(417,-0.4),(420,-0.2),(422,-0.4),(425,0.25),(427,0.05),(430,-0.4),(432,-0.2),(435,0.05),(437,0.5),(440,1.4),(442,0.05),(445,-0.2),(447,-0.4),(450,-0.4),(452,-0.65),(454,-0.4),(457,0.95),(459,0.5),(462,0.05),(464,0.5),(467,1.2),(469,0.7),(472,0.05),(474,-0.4),(477,-0.2),(479,-0.65),(482,-0.85),(484,-0.65),(487,-0.2),(489,-0.4),(492,-0.85),(494,-0.65),(497,-0.4),(499,-0.65),(501,-0.4),(504,-0.4),(506,0.05),(509,0.7),(511,-0.4),(514,-0.85),(516,-1.55),(519,-0.85),(521,-0.85),(524,0.05),(526,1.2),(529,1.65),(531,0.5),(534,-1.1),(536,-1.55),(539,-0.85),(541,-0.4)]

# row 3 (8ch_col)
pred_col_c1 = [(0,0.15),(2,-0.05),(6,0.05),(9,0.15),(12,0.2),(15,0.15),(18,0.15),(22,0.3),(24,0.8),(26,1.5),(29,2.2),(31,1.35),(34,1.15),(36,1.5),(38,1.0),(41,1.15),(43,1.15),(45,1.35),(48,1.15),(50,0.3),(53,0.15),(55,0.3),(57,-0.05),(60,0.5),(62,0.5),(65,1.15),(67,1.85),(69,0.8),(72,-0.2),(74,0.8),(77,1.7),(79,0.8),(81,0.15),(84,1.15),(86,1.5),(89,0.65),(91,-0.2),(93,0.8),(96,1.5),(98,0.8),(101,0.3),(103,2.2),(105,1.85),(108,1.0),(110,0.3),(113,0.15),(115,1.5),(117,1.15),(120,0.3),(122,0.5),(125,0.8),(127,1.35),(129,0.65),(132,1.15),(134,2.2),(136,1.5),(139,0.65),(141,0.5),(144,0.8),(146,0.5),(148,0.8),(151,1.0),(153,0.65),(156,0.65),(158,0.5),(160,-0.2),(163,0.3),(165,2.0),(168,2.2),(170,1.15),(172,1.5),(175,1.15),(177,1.0),(180,1.5),(182,1.7),(184,1.85),(187,2.0),(189,1.15),(192,0.3),(194,-0.2),(196,0.15),(199,0.5),(201,0.8),(204,0.65),(206,1.85),(208,2.55),(211,1.5),(213,0.3),(215,0.15),(218,1.35),(220,1.15),(223,0.5),(225,0.3),(227,1.15),(230,1.85),(232,2.9),(235,3.55),(237,2.55),(239,1.15),(242,0.65),(244,1.0),(247,1.15),(249,1.0),(251,1.15),(254,0.8),(256,1.15),(259,1.0),(261,0.8),(263,1.0),(266,0.5),(268,1.5),(271,2.55),(273,3.05),(275,2.55),(278,0.8),(280,0.65),(283,0.3),(285,0.5),(287,1.0),(290,0.65),(292,0.15),(294,0.15),(297,0.8),(299,2.0),(302,1.7),(304,1.85),(306,1.5),(309,0.5),(311,-0.4),(314,0.5),(316,1.35),(318,0.5),(321,0.3),(323,0.65),(326,0.5),(328,0.5),(330,1.0),(333,1.85),(335,1.35),(338,0.65),(340,0.8),(342,0.65),(345,0.8),(347,0.5),(350,2.0),(352,1.85),(354,1.0),(357,1.5),(359,2.0),(362,1.85),(364,2.7),(367,1.85),(369,0.5),(371,-0.05),(374,0.3),(376,1.5),(378,2.2),(381,2.0),(383,1.15),(385,2.0),(388,2.55),(390,1.5),(393,1.15),(395,0.65),(397,1.0),(400,1.7),(402,2.0),(405,1.85),(407,1.15),(409,0.5),(412,0.8),(414,1.5),(417,2.55),(418,3.3),(421,2.35),(423,1.35),(425,1.15),(428,1.5),(430,2.0),(433,2.35),(435,1.15),(437,0.8),(440,0.65),(442,0.5),(445,1.35),(447,1.85),(449,2.7),(452,3.25),(454,2.55),(457,1.5),(459,1.0),(461,0.8),(464,1.5),(466,1.7),(469,1.5),(471,1.85),(473,1.15),(476,1.35),(478,2.35),(480,2.0),(483,1.0),(485,0.3),(488,0.8),(490,0.8),(492,1.0),(495,0.65),(497,0.8),(500,0.5),(502,1.5),(505,2.0),(507,1.7),(509,0.8),(511,0.5),(514,1.15),(516,1.0),(519,0.5),(521,0.8),(524,2.2),(526,2.7),(528,3.05),(531,1.85),(533,0.65),(536,-0.05),(538,-0.2),(540,0.15),(541,0.15)]

pred_col_c2 = [(0,0.05),(1,-0.4),(3,0.05),(6,-0.1),(9,0.15),(12,-0.1),(16,0.15),(19,0.0),(22,0.05),(25,-0.65),(27,-0.85),(29,0.95),(31,2.05),(34,2.1),(36,1.15),(38,1.3),(41,1.85),(43,1.85),(46,1.3),(48,0.75),(51,0.6),(53,0.75),(56,0.6),(58,0.6),(61,0.95),(63,0.6),(65,0.95),(68,0.75),(70,0.25),(73,-0.1),(75,0.95),(78,0.75),(80,0.4),(83,1.15),(85,1.3),(87,0.75),(90,-0.1),(92,0.4),(95,1.15),(97,0.75),(100,0.6),(102,1.5),(105,1.65),(107,1.15),(110,0.25),(112,0.4),(114,0.95),(117,0.75),(119,0.4),(122,0.25),(124,0.4),(127,0.6),(129,0.4),(132,0.25),(134,0.6),(137,-0.1),(139,-0.65),(141,0.75),(144,0.6),(146,0.95),(149,0.6),(151,0.75),(154,0.95),(156,1.15),(159,0.95),(161,0.75),(164,1.3),(166,2.2),(168,2.4),(171,1.65),(173,0.25),(176,0.6),(178,1.3),(181,1.65),(183,2.05),(186,2.05),(188,1.3),(191,0.05),(193,0.25),(195,-0.1),(198,-0.65),(200,-0.5),(203,0.75),(205,2.05),(208,2.05),(210,2.2),(213,1.3),(215,0.95),(217,1.65),(220,1.85),(222,1.15),(225,0.6),(227,1.3),(230,2.05),(232,3.1),(235,2.55),(237,1.3),(240,0.6),(242,0.4),(244,0.6),(247,0.75),(249,0.95),(252,0.6),(254,-0.3),(257,0.05),(259,1.15),(262,1.65),(264,0.95),(267,2.05),(269,2.2),(271,2.4),(274,1.65),(276,0.6),(279,0.05),(281,0.6),(284,0.05),(286,-0.1),(289,-0.65),(291,0.25),(294,0.75),(296,1.3),(298,1.85),(301,2.55),(303,2.4),(306,2.05),(308,1.3),(311,0.6),(313,0.4),(316,0.6),(318,1.3),(321,1.5),(323,0.6),(325,1.65),(328,0.05),(330,-0.5),(333,0.95),(335,0.75),(338,1.3),(340,1.3),(343,0.6),(345,1.3),(347,1.85),(350,2.2),(352,2.05),(355,2.05),(357,2.75),(360,2.4),(362,2.2),(365,1.3),(367,0.75),(370,0.25),(372,0.6),(374,1.15),(377,2.4),(379,2.9),(382,2.2),(384,1.85),(387,2.4),(389,2.05),(392,1.3),(394,0.95),(397,0.4),(399,-0.1),(401,0.6),(404,1.3),(406,2.05),(409,1.3),(411,0.75),(414,0.95),(416,3.1),(419,2.75),(421,1.65),(424,1.3),(426,1.85),(428,2.05),(431,2.4),(433,1.3),(436,-0.1),(438,-0.3),(441,0.4),(443,1.3),(446,2.55),(448,3.8),(451,4.2),(453,2.05),(455,0.95),(458,1.3),(460,1.5),(463,1.85),(465,1.3),(468,0.6),(470,1.3),(473,1.85),(475,2.2),(478,2.4),(480,1.85),(482,1.3),(485,1.15),(487,2.2),(490,2.05),(492,1.65),(495,1.3),(497,1.15),(500,1.3),(502,2.05),(505,2.55),(507,2.75),(509,2.05),(512,1.65),(514,1.3),(517,2.05),(519,1.5),(522,0.95),(524,1.65),(527,2.75),(529,2.9),(531,2.2),(534,1.15),(536,0.4),(539,0.6),(540,0.95),(541,0.85)]

pred_col_c3 = [(0,0.05),(1,-0.5),(3,0.1),(7,0.2),(10,-0.15),(13,0.2),(16,0.05),(20,0.1),(23,0.2),(25,0.05),(28,-0.3),(30,-0.85),(33,-1.05),(35,-0.7),(38,-0.15),(40,0.4),(42,0.65),(44,0.4),(47,-0.3),(49,-0.3),(51,0.2),(54,0.55),(56,0.4),(59,0.05),(61,-0.3),(64,-0.15),(66,0.4),(69,0.55),(71,0.4),(74,0.05),(76,0.2),(78,0.4),(81,-0.15),(83,-1.05),(86,-0.85),(88,-0.3),(91,0.4),(93,0.9),(96,1.45),(98,1.1),(100,1.3),(103,0.9),(105,-0.15),(108,-0.7),(110,-0.7),(113,-0.3),(115,-0.5),(118,-0.7),(120,-0.15),(123,0.4),(125,0.2),(127,0.05),(130,1.1),(132,1.0),(135,0.2),(137,-0.15),(140,0.05),(142,-0.15),(145,0.4),(147,0.75),(150,0.2),(152,0.4),(154,1.3),(157,0.9),(159,0.4),(162,0.05),(164,-0.3),(167,-1.4),(169,-0.7),(172,0.05),(174,0.2),(176,0.05),(179,0.4),(181,0.2),(184,-0.5),(186,-0.3),(189,0.2),(191,0.4),(194,0.4),(196,0.4),(199,0.55),(201,0.2),(203,0.05),(206,-0.3),(208,0.2),(211,0.55),(213,0.75),(216,1.1),(218,1.3),(221,0.75),(223,0.05),(225,-0.3),(228,-0.15),(230,0.4),(233,1.1),(235,1.45),(238,0.75),(240,0.05),(243,-0.3),(245,-0.5),(248,-0.15),(250,0.4),(252,0.4),(255,0.75),(257,1.45),(260,1.1),(262,0.4),(265,0.2),(267,0.05),(270,0.2),(272,0.05),(274,0.4),(277,0.05),(279,0.2),(282,1.45),(284,0.75),(287,0.55),(289,0.4),(292,0.75),(294,0.2),(297,0.9),(299,1.45),(301,1.3),(304,0.75),(306,1.45),(309,1.1),(311,0.9),(314,1.3),(316,0.9),(319,0.4),(321,0.75),(324,0.75),(326,0.05),(328,0.4),(331,0.2),(333,0.05),(336,0.4),(338,1.1),(340,1.8),(343,0.9),(345,0.05),(348,-0.15),(350,-0.5),(353,-0.15),(355,1.1),(358,0.9),(360,0.05),(363,-0.5),(365,0.4),(368,0.9),(370,0.75),(373,0.75),(375,1.45),(377,1.1),(380,0.55),(382,0.75),(385,0.4),(387,0.55),(390,0.55),(392,0.4),(395,0.55),(397,1.1),(400,2.15),(402,1.65),(404,1.1),(407,0.75),(409,0.55),(412,0.75),(414,0.55),(417,0.9),(419,1.1),(422,0.9),(424,0.75),(426,1.1),(429,0.4),(431,0.4),(434,0.55),(436,0.75),(439,1.1),(441,1.1),(444,0.9),(446,0.05),(448,-0.15),(451,0.75),(453,1.1),(456,1.1),(458,1.45),(461,2.15),(463,1.95),(466,0.75),(468,0.55),(471,1.3),(473,1.1),(475,0.4),(478,0.05),(480,0.9),(483,1.3),(485,0.75),(488,1.1),(490,0.9),(493,1.1),(495,0.9),(498,0.75),(500,1.3),(502,1.65),(505,1.1),(507,0.4),(510,0.9),(512,0.75),(515,1.3),(517,0.75),(520,0.75),(522,1.3),(525,0.4),(527,0.05),(529,-0.3),(532,0.55),(534,1.45),(537,1.8),(539,1.65),(541,1.45)]

pred_col_c4 = [(0,0.05),(3,-0.1),(6,0.1),(10,0.05),(13,0.1),(16,0.05),(19,0.1),(23,0.25),(25,1.15),(27,1.35),(29,0.45),(32,-0.25),(34,0.0),(37,0.25),(39,0.0),(42,0.25),(44,-0.25),(47,0.0),(49,0.25),(52,0.0),(54,0.45),(57,0.25),(59,-0.7),(62,-0.25),(64,0.0),(67,0.0),(69,0.0),(72,0.0),(74,0.0),(77,0.0),(79,-0.1),(81,0.0),(84,-0.25),(86,0.0),(89,-0.25),(91,-0.45),(94,0.45),(96,0.8),(99,0.45),(101,0.0),(104,0.0),(106,-0.25),(109,-0.7),(111,-0.25),(114,0.0),(116,0.25),(119,0.0),(121,0.0),(124,0.25),(126,0.45),(129,1.15),(131,0.7),(134,0.45),(136,0.7),(139,0.25),(141,0.9),(144,0.45),(146,0.25),(148,0.0),(151,-0.25),(153,0.0),(156,0.25),(158,0.25),(161,-0.25),(163,0.25),(166,0.45),(168,0.45),(171,1.15),(172,1.45),(175,0.7),(177,-0.25),(180,-0.45),(182,-0.45),(185,0.0),(187,0.25),(190,0.45),(192,0.7),(195,0.45),(197,0.7),(200,0.45),(202,0.0),(205,-0.1),(207,0.0),(210,-0.1),(212,0.25),(215,0.45),(217,0.7),(220,0.25),(222,-0.25),(225,0.0),(227,0.45),(230,1.35),(232,0.7),(234,0.0),(237,-0.25),(239,-0.45),(242,-0.7),(244,0.0),(247,0.25),(249,0.25),(252,0.7),(254,0.9),(257,1.15),(259,0.7),(262,-0.45),(264,-0.7),(267,-0.25),(269,0.0),(272,0.25),(274,0.0),(277,0.25),(279,0.7),(282,0.25),(284,-0.25),(287,0.25),(289,0.7),(292,0.25),(294,-0.45),(297,0.0),(299,0.7),(301,0.7),(304,0.45),(306,0.25),(309,0.0),(311,-0.25),(314,-0.45),(316,0.0),(319,0.45),(321,1.35),(324,0.9),(326,0.45),(329,0.7),(331,0.45),(334,0.25),(336,-0.45),(339,-0.25),(341,0.0),(344,-0.25),(346,-0.45),(349,-0.25),(351,0.0),(354,0.25),(356,0.25),(359,0.0),(361,0.0),(364,0.0),(366,-0.25),(368,0.25),(371,0.0),(373,-0.25),(376,0.25),(378,0.45),(381,0.0),(383,-0.25),(386,-0.45),(388,-0.25),(391,0.0),(393,0.45),(396,0.7),(398,1.35),(401,1.8),(403,1.6),(406,0.7),(408,0.0),(411,-0.25),(413,0.25),(416,-0.25),(418,-0.7),(421,-0.25),(423,0.0),(426,0.25),(428,0.0),(430,-0.25),(433,-0.25),(435,0.0),(438,0.9),(440,0.45),(442,-0.45),(445,-0.7),(447,-0.25),(450,0.0),(452,0.0),(455,0.25),(457,0.25),(459,0.45),(462,0.25),(465,-0.25),(467,0.7),(469,0.25),(472,-0.25),(474,-0.45),(477,-0.25),(479,0.25),(482,0.0),(484,-0.25),(487,-0.45),(489,-0.25),(492,-0.45),(494,-0.7),(497,-0.25),(499,-0.45),(502,0.0),(504,-0.25),(507,0.0),(509,-0.25),(512,-0.25),(514,-0.45),(517,-0.7),(519,-0.25),(522,-0.25),(524,0.0),(526,0.25),(529,0.0),(531,-0.45),(534,-0.7),(536,-0.25),(539,-0.1),(541,-0.1)]

truth = [true_c1, true_c2, true_c3, true_c4]
preds = [
    [pred_64ch_c1, pred_64ch_c2, pred_64ch_c3, pred_64ch_c4],
    [pred_ori_c1, pred_ori_c2, pred_ori_c3, pred_ori_c4],
    [pred_col_c1, pred_col_c2, pred_col_c3, pred_col_c4],
]
row_names = ["64ch", "8ch_ori", "8ch_col"]
alphas = [["[ 1.]"] * 4, ["[ 1.]"] * 4, ["[ 1.]", "[ 1.]", "[ 1.]", "[ 15.]"]]
r2s = [["0.52", "0.57", "0.51", "0.37"],
       ["0.14", "0.14", "0.07", "0.09"],
       ["0.13", "0.12", "0.10", "0.06"]]

BLUE = "#4C72B0"
GREEN = "#55A868"
TXT = "#262626"
FONT = "Liberation Sans, Arial, sans-serif"
W, H = 4800, 1200

# matplotlib default subplot geometry
left, right, bottom, top = 0.125, 0.9, 0.11, 0.88
w = (right - left) / (4 + 3 * 0.2)
h = (top - bottom) / (3 + 2 * 0.2)

fig = go.Figure()
layout = {}
ann = []
for r in range(3):
    for c in range(4):
        i = r * 4 + c + 1
        sfx = "" if i == 1 else str(i)
        x0 = left + c * w * 1.2
        y1 = top - r * h * 1.2
        y0 = y1 - h
        bt, bv = zip(*truth[c])
        gt, gv = zip(*preds[r][c])
        fig.add_trace(go.Scatter(x=bt, y=bv, mode="lines", line=dict(color=BLUE, width=2.2),
                                 xaxis="x" + sfx, yaxis="y" + sfx, showlegend=False))
        fig.add_trace(go.Scatter(x=gt, y=gv, mode="lines", line=dict(color=GREEN, width=2.2),
                                 xaxis="x" + sfx, yaxis="y" + sfx, showlegend=False))
        lo = min(min(bv), min(gv))
        hi = max(max(bv), max(gv))
        pad = 0.05 * (hi - lo)
        common = dict(showgrid=True, gridcolor="white", gridwidth=1.4, zeroline=False,
                      showline=False, ticks="", tickfont=dict(size=14, color=TXT, family=FONT),
                      ticklabelstandoff=6)
        layout["xaxis" + sfx] = dict(domain=[x0, x0 + w], anchor="y" + sfx,
                                     range=[-0.05 * 541, 1.05 * 541],
                                     tickmode="array", tickvals=[0, 100, 200, 300, 400, 500], **common)
        if c == 3:
            ystep = dict(dtick=2.5, tick0=0, tickformat=".1f")
        else:
            ystep = dict(dtick=2, tick0=0)
        layout["yaxis" + sfx] = dict(domain=[y0, y1], anchor="x" + sfx,
                                     range=[lo - pad, hi + pad], **ystep, **common)
        ann.append(dict(text=f"{row_names[r]}_time_course_alpha_{alphas[r][c]}_r2_[{r2s[r][c]}]",
                        x=x0 + w / 2, y=y1, xref="paper", yref="paper",
                        xanchor="center", yanchor="bottom", yshift=4, showarrow=False,
                        font=dict(size=14, color=TXT, family=FONT)))

fig.update_layout(width=W, height=H, margin=dict(l=0, r=0, t=0, b=0),
                  paper_bgcolor="white", plot_bgcolor="#EAEAF2",
                  font=dict(family=FONT, color=TXT), annotations=ann, **layout)

# fit the fixed 4800x1200 figure into the browser viewport, clip the leftover box
fit_js = """
document.documentElement.style.overflow = 'hidden';
document.body.style.margin = '0';
document.body.style.overflow = 'hidden';
var gd = document.getElementById('{plot_id}');
var s = Math.min(window.innerWidth / %d, window.innerHeight / %d);
gd.style.transformOrigin = '0 0';
gd.style.transform = 'scale(' + s + ')';
var box = gd.parentElement;
box.style.width = (%d * s) + 'px';
box.style.height = (%d * s) + 'px';
box.style.overflow = 'hidden';
document.body.style.height = (%d * s) + 'px';
""" % (W, H, W, H, H)

fig.write_html("out.html", post_script=fit_js, config={"displayModeBar": False})
